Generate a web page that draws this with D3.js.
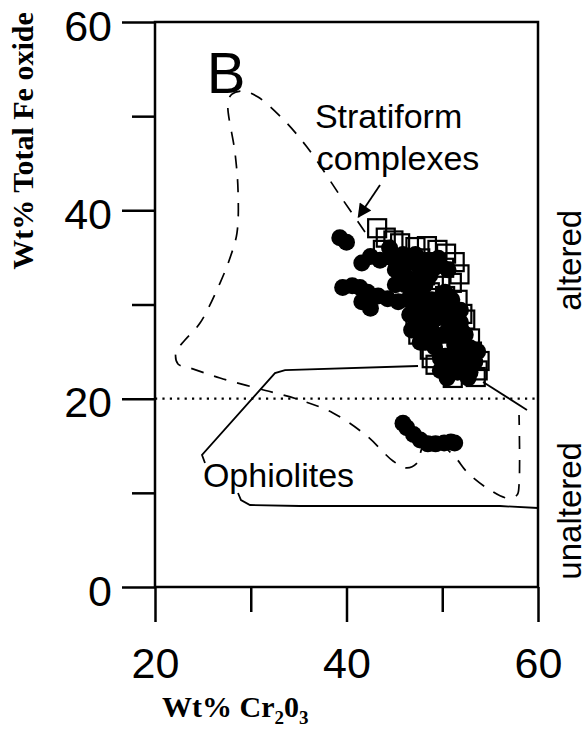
<!DOCTYPE html>
<html>
<head>
<meta charset="utf-8">
<script src="https://cdn.jsdelivr.net/npm/d3@7"></script>
<style>
  body { margin: 0; background: #fff; }
  svg { display: block; }
</style>
</head>
<body>
<div class="chart"></div>
<script>
// open squares (stratiform complexes), [Cr2O3, FeO total]
let squaresX = [43.2,44.1,44.9,45.6,43.8,47.2,48.4,49.5,50.4,51.3,51.8,47.7,48.9,50.2,46.6,48.2,49.8,51.0,
  47.2,48.7,50.3,51.6,47.7,49.2,50.8,52.1,47.2,48.5,50.0,51.3,52.4,47.5,48.9,50.4,51.6,52.9,48.7,50.2,51.6,53.1,
  53.9,49.3,50.8,52.4,53.7,51.1,53.5,48.9];
let squaresY = [38.1,37.1,36.8,36.5,35.8,36.1,36.2,35.8,35.4,34.5,33.2,34.9,34.5,33.9,33.7,33.1,32.6,32.3,
  31.5,31.3,30.9,30.5,29.9,29.6,29.2,29.0,28.4,28.1,27.8,27.5,28.4,26.8,26.4,26.2,26.0,26.4,25.2,25.0,24.6,25.0,
  24.0,23.6,23.5,23.3,23.0,22.2,22.3,24.3];

// filled circles
let circlesX = [39.3,40.0,41.6,42.5,43.5,44.8,45.9,46.8,39.6,40.6,41.4,42.2,43.3,44.3,45.4,46.4,42.5,41.6,
  47.5,48.2,48.9,50.3,47.9,49.6,50.8,48.5,49.8,51.0,49.2,50.3,49.8,51.3,52.1,52.9,51.6,
  45.1,46.1,47.7,49.2,47.2,46.6,46.8,47.7,51.9,52.4,52.9,50.5,52.7,
  44.5,45.6,47.2,48.2,49.6,50.6,48.7,47.5,46.1,45.1,49.8,
  46.8,48.2,49.6,51.0,47.2,48.5,50.0,51.4,47.5,48.9,50.4,51.9,47.7,49.1,50.6,52.1,48.2,51.6,
  49.8,51.0,52.4,53.4,50.3,52.9,53.7,
  45.9,46.3,47.0,47.7,48.5,49.3,50.2,50.9,51.3];
let circlesY = [37.1,36.6,34.4,35.1,34.7,34.9,35.3,34.5,31.8,32.0,31.8,31.3,30.9,30.6,30.3,30.5,29.6,30.3,
  31.0,32.1,30.5,31.3,28.9,28.6,28.1,27.3,26.7,26.7,25.5,24.5,23.0,25.7,24.1,25.4,22.8,
  33.7,33.1,33.7,33.9,32.6,28.9,27.3,26.0,29.4,26.8,23.6,22.2,22.2,
  36.0,34.2,35.3,34.5,34.9,33.7,33.1,32.6,32.1,32.1,34.2,
  31.3,30.7,30.5,30.5,29.9,29.4,29.4,29.2,28.1,28.1,28.6,28.1,26.9,26.9,27.3,27.1,26.0,25.4,
  24.3,24.1,24.5,23.9,23.0,22.8,25.0,
  17.4,16.9,16.2,15.6,15.2,15.2,15.3,15.4,15.3];

// dashed field boundary (stratiform)
let dashX = [41.93,39.63,35.87,33.26,30.76,29.19,28.04,27.62,28.36,28.67,28.56,27.83,26.79,24.70,23.13,22.19,22.40,23.66,
  26.79,30.97,35.14,38.59,42.14,44.86,46.32,47.47,47.99,49.77,51.33,52.58,54.67,56.76,57.81,58.02,58.02];
let dashY = [37.70,41.10,46.72,49.80,52.03,52.67,52.35,51.40,46.09,42.16,37.59,34.94,32.28,28.03,26.23,24.95,23.68,23.26,
  22.19,21.03,19.86,18.48,16.03,13.38,12.64,13.27,14.87,15.08,13.80,12.21,10.51,9.45,9.77,10.83,18.26];

// solid field boundary (ophiolites), drawn in pieces
let ophTopX = [25.22,24.91,32.53,33.58,47.47];
let ophTopY = [13.17,14.02,22.72,23.04,23.47];
let ophRightX = [54.26,58.85];
let ophRightY = [21.77,18.80];
let ophBottomX = [28.67,28.98,29.92,35.14,47.68,56.03,60.0];
let ophBottomY = [9.98,9.24,8.71,8.60,8.60,8.60,8.39];

let majorTicksX = [20,40,60];
let minorTicksX = [30,50];
let majorTicksY = [0,20,40,60];
let minorTicksY = [10,30,50];
let alterLimit = 20;

let width = 588, height = 744;
let svg = d3.select(".chart").append("svg")
  .attr("width", width)
  .attr("height", height);

let x = d3.scaleLinear().domain([20, 60]).range([155, 538]);
let y = d3.scaleLinear().domain([0, 60]).range([587, 22]);

let sans = "'Liberation Sans', Arial, Helvetica, sans-serif";
let serif = "'Liberation Serif', 'Times New Roman', serif";

//frame
svg.append("rect")
  .attr("x", x(20)).attr("y", y(60))
  .attr("width", x(60) - x(20)).attr("height", y(0) - y(60))
  .attr("fill", "none").attr("stroke", "#000").attr("stroke-width", 2.5);

//axes
function styleAxis(g){
  g.select(".domain").remove();
  g.selectAll(".tick line").attr("stroke", "#000").attr("stroke-width", 2.5);
  g.selectAll("text").attr("font-family", sans).attr("font-size", 43).attr("fill", "#000");
}

let yAx = svg.append("g").attr("transform", "translate(" + x(20) + ",0)")
  .call(d3.axisLeft(y).tickValues(majorTicksY).tickSize(33).tickPadding(10).tickFormat(d3.format("d")))
  .call(styleAxis);
//labels sit a little low on their ticks in the original
yAx.selectAll("text").attr("dy", "0.42em");
svg.append("g").attr("transform", "translate(" + x(20) + ",0)")
  .call(d3.axisLeft(y).tickValues(minorTicksY).tickSize(23).tickFormat(""))
  .call(styleAxis);
svg.append("g").attr("transform", "translate(0," + y(0) + ")")
  .call(d3.axisBottom(x).tickValues(majorTicksX).tickSize(35).tickPadding(25).tickFormat(d3.format("d")))
  .call(styleAxis);
svg.append("g").attr("transform", "translate(0," + y(0) + ")")
  .call(d3.axisBottom(x).tickValues(minorTicksX).tickSize(25).tickFormat(""))
  .call(styleAxis);

//dotted altered/unaltered line
svg.append("line")
  .attr("x1", x(20)).attr("x2", x(60))
  .attr("y1", y(alterLimit)).attr("y2", y(alterLimit))
  .attr("stroke", "#000").attr("stroke-width", 2.2)
  .attr("stroke-dasharray", "2.2,5.2");

//field boundaries
let lineGen = d3.line().x(d => x(d[0])).y(d => y(d[1]));
let curveGen = d3.line().x(d => x(d[0])).y(d => y(d[1])).curve(d3.curveCatmullRom.alpha(0.5));

svg.append("path")
  .attr("d", curveGen(d3.zip(dashX, dashY)))
  .attr("fill", "none").attr("stroke", "#000").attr("stroke-width", 1.7)
  .attr("stroke-dasharray", "13,11");

[[ophTopX, ophTopY], [ophRightX, ophRightY], [ophBottomX, ophBottomY]].forEach(p => {
  svg.append("path")
    .attr("d", lineGen(d3.zip(p[0], p[1])))
    .attr("fill", "none").attr("stroke", "#000").attr("stroke-width", 1.8);
});

//points
svg.append("g").selectAll("circle")
  .data(d3.zip(circlesX, circlesY))
  .join("circle")
  .attr("cx", d => x(d[0])).attr("cy", d => y(d[1]))
  .attr("r", 8.5).attr("fill", "#000");

let sq = 18;
svg.append("g").selectAll("rect")
  .data(d3.zip(squaresX, squaresY))
  .join("rect")
  .attr("x", d => x(d[0]) - sq / 2).attr("y", d => y(d[1]) - sq / 2)
  .attr("width", sq).attr("height", sq)
  .attr("fill", "none").attr("stroke", "#000").attr("stroke-width", 2.2);

//arrow to the stratiform field
svg.append("defs").append("marker")
  .attr("id", "head").attr("viewBox", "0 0 10 10")
  .attr("refX", 9).attr("refY", 5)
  .attr("markerWidth", 20).attr("markerHeight", 14)
  .attr("markerUnits", "userSpaceOnUse")
  .attr("orient", "auto")
  .append("path").attr("d", "M0,0 L10,5 L0,10 Z").attr("fill", "#000");
svg.append("line")
  .attr("x1", x(43.5)).attr("y1", y(42.7))
  .attr("x2", x(41.25)).attr("y2", y(39.3))
  .attr("stroke", "#000").attr("stroke-width", 1.8)
  .attr("marker-end", "url(#head)");

//labels inside the plot
svg.append("text").attr("x", x(25.4)).attr("y", y(52.5))
  .attr("font-family", sans).attr("font-size", 58).text("B");
svg.append("text").attr("x", x(36.7)).attr("y", y(48.7))
  .attr("font-family", sans).attr("font-size", 34).text("Stratiform");
svg.append("text").attr("x", x(36.9)).attr("y", y(44.3))
  .attr("font-family", sans).attr("font-size", 34).text("complexes");
svg.append("text").attr("x", x(25.0)).attr("y", y(10.6))
  .attr("font-family", sans).attr("font-size", 34).text("Ophiolites");

//side labels
svg.append("text")
  .attr("transform", "translate(" + (x(60) + 43) + "," + ((y(60) + y(alterLimit)) / 2 + 50) + ") rotate(-90)")
  .attr("text-anchor", "middle")
  .attr("font-family", sans).attr("font-size", 33).text("altered");
svg.append("text")
  .attr("transform", "translate(" + (x(60) + 43) + "," + ((y(alterLimit) + y(0)) / 2 + 18) + ") rotate(-90)")
  .attr("text-anchor", "middle")
  .attr("font-family", sans).attr("font-size", 33).text("unaltered");

//axis titles
svg.append("text")
  .attr("transform", "translate(33,141) rotate(-90)")
  .attr("text-anchor", "middle")
  .attr("font-family", serif).attr("font-weight", "bold").attr("font-size", 30)
  .text("Wt% Total Fe oxide");

let xt = svg.append("text")
  .attr("x", 162).attr("y", 717)
  .attr("font-family", serif).attr("font-weight", "bold").attr("font-size", 30);
xt.append("tspan").text("Wt% Cr");
xt.append("tspan").attr("font-size", 19).attr("dy", 7).text("2");
xt.append("tspan").attr("dy", -7).text("0");
xt.append("tspan").attr("font-size", 19).attr("dy", 7).text("3");
</script>
</body>
</html>
